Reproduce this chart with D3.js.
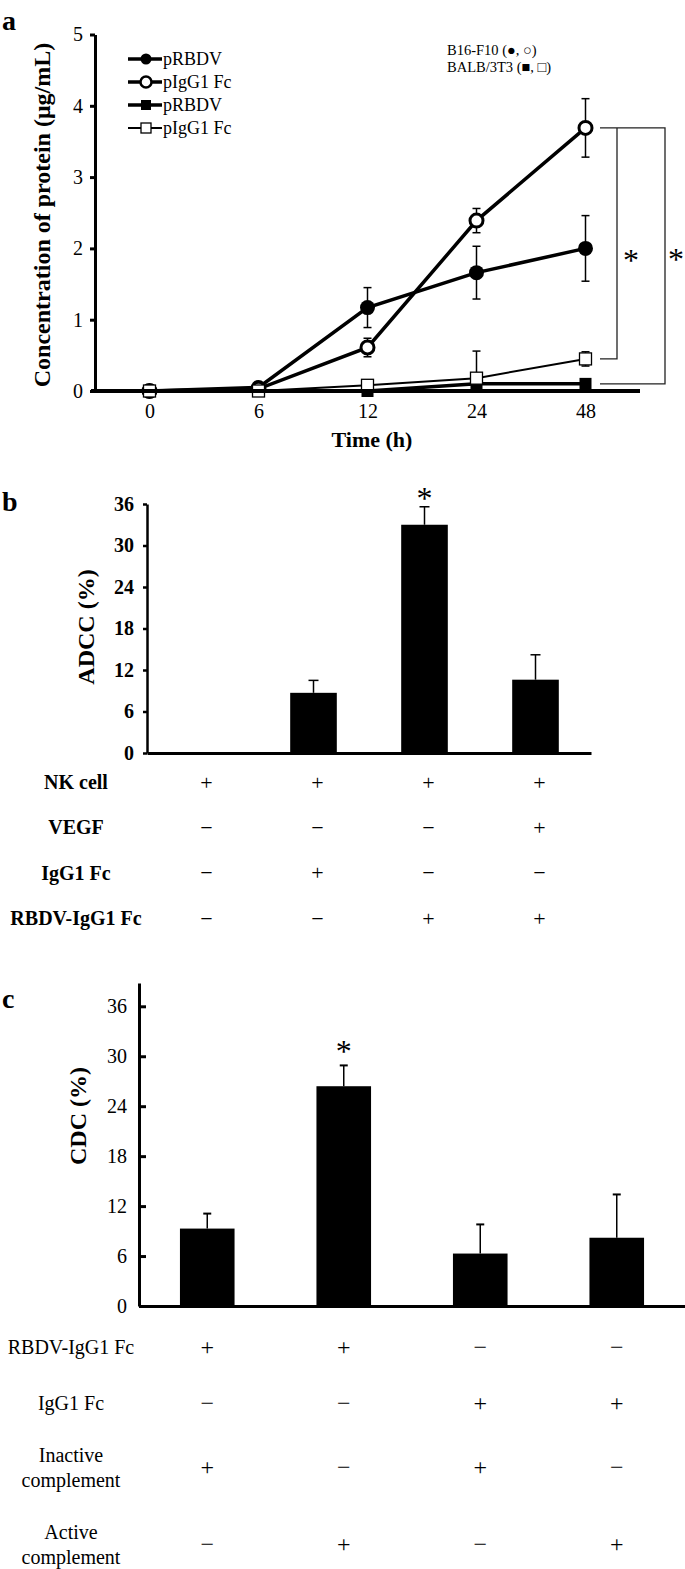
<!DOCTYPE html>
<html>
<head>
<meta charset="utf-8">
<script src="https://cdn.jsdelivr.net/npm/d3@7"></script>
<style>
body{margin:0;background:#fff}
svg text{font-family:"Liberation Serif","Times New Roman",serif;fill:#000}
</style>
</head>
<body>
<script>
// ---- panel a : protein concentration over time
const times = ["0","6","12","24","48"];
const legendNames = ["pRBDV","pIgG1 Fc","pRBDV","pIgG1 Fc"];
const rbdvB16 = [0,0.05,1.17,1.66,2.0];
const rbdvB16Err = [0,0.02,0.28,0.37,0.46];
const fcB16 = [0,0.03,0.61,2.39,3.69];
const fcB16Err = [0,0.02,0.13,0.17,0.41];
const rbdv3T3 = [0,0,0,0.1,0.1];
const rbdv3T3Err = [0,0,0,0,0];
const fc3T3 = [0,0,0.08,0.18,0.45];
const fc3T3Err = [0,0,0,0.38,0.1];
const yTicksA = [0,1,2,3,4,5];

// ---- panel b : ADCC
const groups = ["1","2","3","4"];
const adcc = [0,8.7,33.0,10.6];
const adccErr = [0,1.8,2.6,3.6];
const adccRows = ["NK cell","VEGF","IgG1 Fc","RBDV-IgG1 Fc"];
const adccSigns = [["+","+","+","+"],["\u2212","\u2212","\u2212","+"],["\u2212","+","\u2212","\u2212"],["\u2212","\u2212","+","+"]];
const pctTicks = [0,6,12,18,24,30,36];

// ---- panel c : CDC
const cdc = [9.3,26.4,6.3,8.2];
const cdcErr = [1.8,2.5,3.5,5.2];
const cdcRows = [["RBDV-IgG1 Fc"],["IgG1 Fc"],["Inactive","complement"],["Active","complement"]];
const cdcSigns = [["+","+","\u2212","\u2212"],["\u2212","\u2212","+","+"],["+","\u2212","+","\u2212"],["\u2212","+","\u2212","+"]];

const svg = d3.select("body").append("svg")
  .attr("width",685).attr("height",1569);

// ================= panel a =================
const xA = d3.scalePoint().domain(times).range([95,640]).padding(0.5);
const yA = d3.scaleLinear().domain([0,5]).range([391,34.5]);

svg.append("text").attr("x",2).attr("y",30).attr("font-size",28).attr("font-weight","bold").text("a");

const series = [
  {v:rbdvB16, e:rbdvB16Err, shape:"circle", fill:"#000", lw:3.5},
  {v:fcB16, e:fcB16Err, shape:"circle", fill:"#fff", lw:3.5},
  {v:rbdv3T3, e:rbdv3T3Err, shape:"square", fill:"#000", lw:3.5},
  {v:fc3T3, e:fc3T3Err, shape:"square", fill:"#fff", lw:2}
];

const line = d3.line().x((d,i)=>xA(times[i])).y(d=>yA(d));
const gA = svg.append("g");

series.forEach(s=>{
  gA.append("path").attr("d",line(s.v)).attr("fill","none")
    .attr("stroke","#000").attr("stroke-width",s.lw);
});

// error bars
series.forEach(s=>{
  s.v.forEach((d,i)=>{
    if(!s.e[i]) return;
    const x = xA(times[i]);
    const top = yA(d+s.e[i]), bot = yA(Math.max(0,d-s.e[i]));
    gA.append("line").attr("x1",x).attr("x2",x).attr("y1",top).attr("y2",bot)
      .attr("stroke","#000").attr("stroke-width",1.5);
    [top,bot].forEach(y=>gA.append("line").attr("x1",x-4).attr("x2",x+4)
      .attr("y1",y).attr("y2",y).attr("stroke","#000").attr("stroke-width",1.5));
  });
});

function marker(g,shape,fill,x,y,big){
  if(shape==="circle"){
    const r = big ? (fill==="#000"?7.5:6.5) : 5.5;
    g.append("circle").attr("cx",x).attr("cy",y).attr("r",r)
      .attr("fill",fill).attr("stroke","#000").attr("stroke-width",fill==="#000"?0:(big?3:2.5));
  } else {
    const s = big ? 12 : 10;
    g.append("rect").attr("x",x-s/2).attr("y",y-s/2).attr("width",s).attr("height",s)
      .attr("fill",fill).attr("stroke","#000").attr("stroke-width",fill==="#000"?0:1.3);
  }
}

series.forEach(s=>{
  s.v.forEach((d,i)=>marker(gA,s.shape,s.fill,xA(times[i]),yA(d),true));
});

// axes
const axA = svg.append("g").attr("transform","translate(95,0)")
  .call(d3.axisLeft(yA).tickValues(yTicksA).tickFormat(d3.format("d"))
    .tickSize(5).tickSizeOuter(0).tickPadding(7));
axA.select(".domain").attr("stroke-width",3);
axA.selectAll(".tick line").attr("stroke-width",3);
axA.selectAll("text").attr("font-size",20);

const axAx = svg.append("g").attr("transform","translate(0,391)")
  .call(d3.axisBottom(xA).tickSize(0).tickSizeOuter(0).tickPadding(13));
axAx.select(".domain").attr("stroke-width",4).attr("d","M91,0H640");
axAx.selectAll("text").attr("font-size",20);

svg.append("text").attr("transform","translate(42,215) rotate(-90)")
  .attr("text-anchor","middle").attr("dominant-baseline","central")
  .attr("font-size",24).attr("font-weight","bold")
  .text("Concentration of protein (\u03bcg/mL)");
svg.append("text").attr("x",372).attr("y",447).attr("text-anchor","middle")
  .attr("font-size",22).attr("font-weight","bold").text("Time (h)");

// legend
const leg = svg.append("g");
legendNames.forEach((n,i)=>{
  const y = 59 + i*23;
  leg.append("line").attr("x1",128).attr("x2",162).attr("y1",y).attr("y2",y)
    .attr("stroke","#000").attr("stroke-width",series[i].lw);
  marker(leg,series[i].shape,series[i].fill,146,y,false);
  leg.append("text").attr("x",163).attr("y",y).attr("dominant-baseline","central")
    .attr("font-size",18).text(n);
});
svg.append("text").attr("x",447).attr("y",55).attr("font-size",14.5).text("B16-F10 (\u25cf, \u25cb)");
svg.append("text").attr("x",447).attr("y",72).attr("font-size",14.5).text("BALB/3T3 (\u25a0, \u25a1)");

// significance brackets
const last = times.length-1;
const yTop = yA(fcB16[last]), yIn = yA(fc3T3[last]), yOut = yA(rbdv3T3[last]);
const br = svg.append("g").attr("fill","none").attr("stroke","#222").attr("stroke-width",1.3);
br.append("path").attr("d",`M600,${yTop}H665V${yOut}H600`);
br.append("path").attr("d",`M617,${yTop}V${yIn}H600`);
svg.append("text").attr("x",631).attr("y",271).attr("text-anchor","middle").attr("font-size",32).text("*");
svg.append("text").attr("x",676).attr("y",270).attr("text-anchor","middle").attr("font-size",32).text("*");

// ================= panel b =================
const xB = d3.scaleBand().domain(groups).range([147,591]).paddingInner(0.58).paddingOuter(0.29);
const yB = d3.scaleLinear().domain([0,36]).range([753,504]);

svg.append("text").attr("x",2).attr("y",511).attr("font-size",28).attr("font-weight","bold").text("b");

svg.append("g").selectAll("rect").data(adcc).enter().append("rect")
  .attr("x",(d,i)=>xB(groups[i])).attr("width",xB.bandwidth())
  .attr("y",d=>yB(d)).attr("height",d=>yB(0)-yB(d)).attr("fill","#000");

adcc.forEach((d,i)=>{
  if(!adccErr[i]) return;
  const x = xB(groups[i])+xB.bandwidth()/2, t = yB(d+adccErr[i]);
  svg.append("line").attr("x1",x).attr("x2",x).attr("y1",yB(d)).attr("y2",t).attr("stroke","#000").attr("stroke-width",1.5);
  svg.append("line").attr("x1",x-5).attr("x2",x+5).attr("y1",t).attr("y2",t).attr("stroke","#000").attr("stroke-width",1.5);
});
svg.append("text").attr("x",xB(groups[2])+xB.bandwidth()/2).attr("y",509)
  .attr("text-anchor","middle").attr("font-size",32).text("*");

const axB = svg.append("g").attr("transform","translate(147,0)")
  .call(d3.axisLeft(yB).tickValues(pctTicks).tickSize(4).tickSizeOuter(0).tickPadding(9));
axB.select(".domain").attr("stroke-width",2.5);
axB.selectAll(".tick line").attr("stroke-width",2.5);
axB.selectAll("text").attr("font-size",20).attr("font-weight","bold");

const axBx = svg.append("g").attr("transform","translate(0,753)")
  .call(d3.axisBottom(xB).tickSize(0).tickSizeOuter(0).tickFormat(""));
axBx.select(".domain").attr("stroke-width",3);

svg.append("text").attr("transform","translate(86,627) rotate(-90)")
  .attr("text-anchor","middle").attr("dominant-baseline","central")
  .attr("font-size",24).attr("font-weight","bold").text("ADCC (%)");

const rowB = d3.scalePoint().domain(adccRows).range([782,918]);
adccRows.forEach((r,ri)=>{
  const y = rowB(r);
  svg.append("text").attr("x",76).attr("y",y).attr("text-anchor","middle")
    .attr("dominant-baseline","central").attr("font-size",20).attr("font-weight","bold").text(r);
  adccSigns[ri].forEach((s,ci)=>{
    svg.append("text").attr("x",xB(groups[ci])+xB.bandwidth()/2+4).attr("y",y)
      .attr("text-anchor","middle").attr("dominant-baseline","central")
      .attr("font-size",22).attr("fill","#333").text(s);
  });
});

// ================= panel c =================
const xC = d3.scaleBand().domain(groups).range([139,685]).paddingInner(0.6).paddingOuter(0.3);
const yC = d3.scaleLinear().domain([0,38.8]).range([1306,983]);

svg.append("text").attr("x",2).attr("y",1008).attr("font-size",28).attr("font-weight","bold").text("c");

svg.append("g").selectAll("rect").data(cdc).enter().append("rect")
  .attr("x",(d,i)=>xC(groups[i])).attr("width",xC.bandwidth())
  .attr("y",d=>yC(d)).attr("height",d=>yC(0)-yC(d)).attr("fill","#000");

cdc.forEach((d,i)=>{
  const x = xC(groups[i])+xC.bandwidth()/2, t = yC(d+cdcErr[i]);
  svg.append("line").attr("x1",x).attr("x2",x).attr("y1",yC(d)).attr("y2",t).attr("stroke","#000").attr("stroke-width",1.5);
  svg.append("line").attr("x1",x-4).attr("x2",x+4).attr("y1",t).attr("y2",t).attr("stroke","#000").attr("stroke-width",2);
});
svg.append("text").attr("x",xC(groups[1])+xC.bandwidth()/2).attr("y",1062)
  .attr("text-anchor","middle").attr("font-size",32).text("*");

const axC = svg.append("g").attr("transform","translate(139,0)")
  .call(d3.axisLeft(yC).tickValues(pctTicks).tickSize(-7).tickSizeOuter(0).tickPadding(12));
axC.select(".domain").attr("stroke-width",3);
axC.selectAll(".tick line").attr("stroke-width",3);
axC.selectAll("text").attr("font-size",20);

const axCx = svg.append("g").attr("transform","translate(0,1306)")
  .call(d3.axisBottom(xC).tickSize(0).tickSizeOuter(0).tickFormat(""));
axCx.select(".domain").attr("stroke-width",3);

svg.append("text").attr("transform","translate(78,1116) rotate(-90)")
  .attr("text-anchor","middle").attr("dominant-baseline","central")
  .attr("font-size",24).attr("font-weight","bold").text("CDC (%)");

const cRowY = [1347,1403,1467,1544];
cdcRows.forEach((r,ri)=>{
  const y = cRowY[ri];
  r.forEach((t,li)=>{
    svg.append("text").attr("x",71).attr("y",y+(li-(r.length-1)/2)*25)
      .attr("text-anchor","middle").attr("dominant-baseline","central")
      .attr("font-size",20).text(t);
  });
  cdcSigns[ri].forEach((s,ci)=>{
    svg.append("text").attr("x",xC(groups[ci])+xC.bandwidth()/2).attr("y",y)
      .attr("text-anchor","middle").attr("dominant-baseline","central")
      .attr("font-size",24).text(s);
  });
});
</script>
</body>
</html>
